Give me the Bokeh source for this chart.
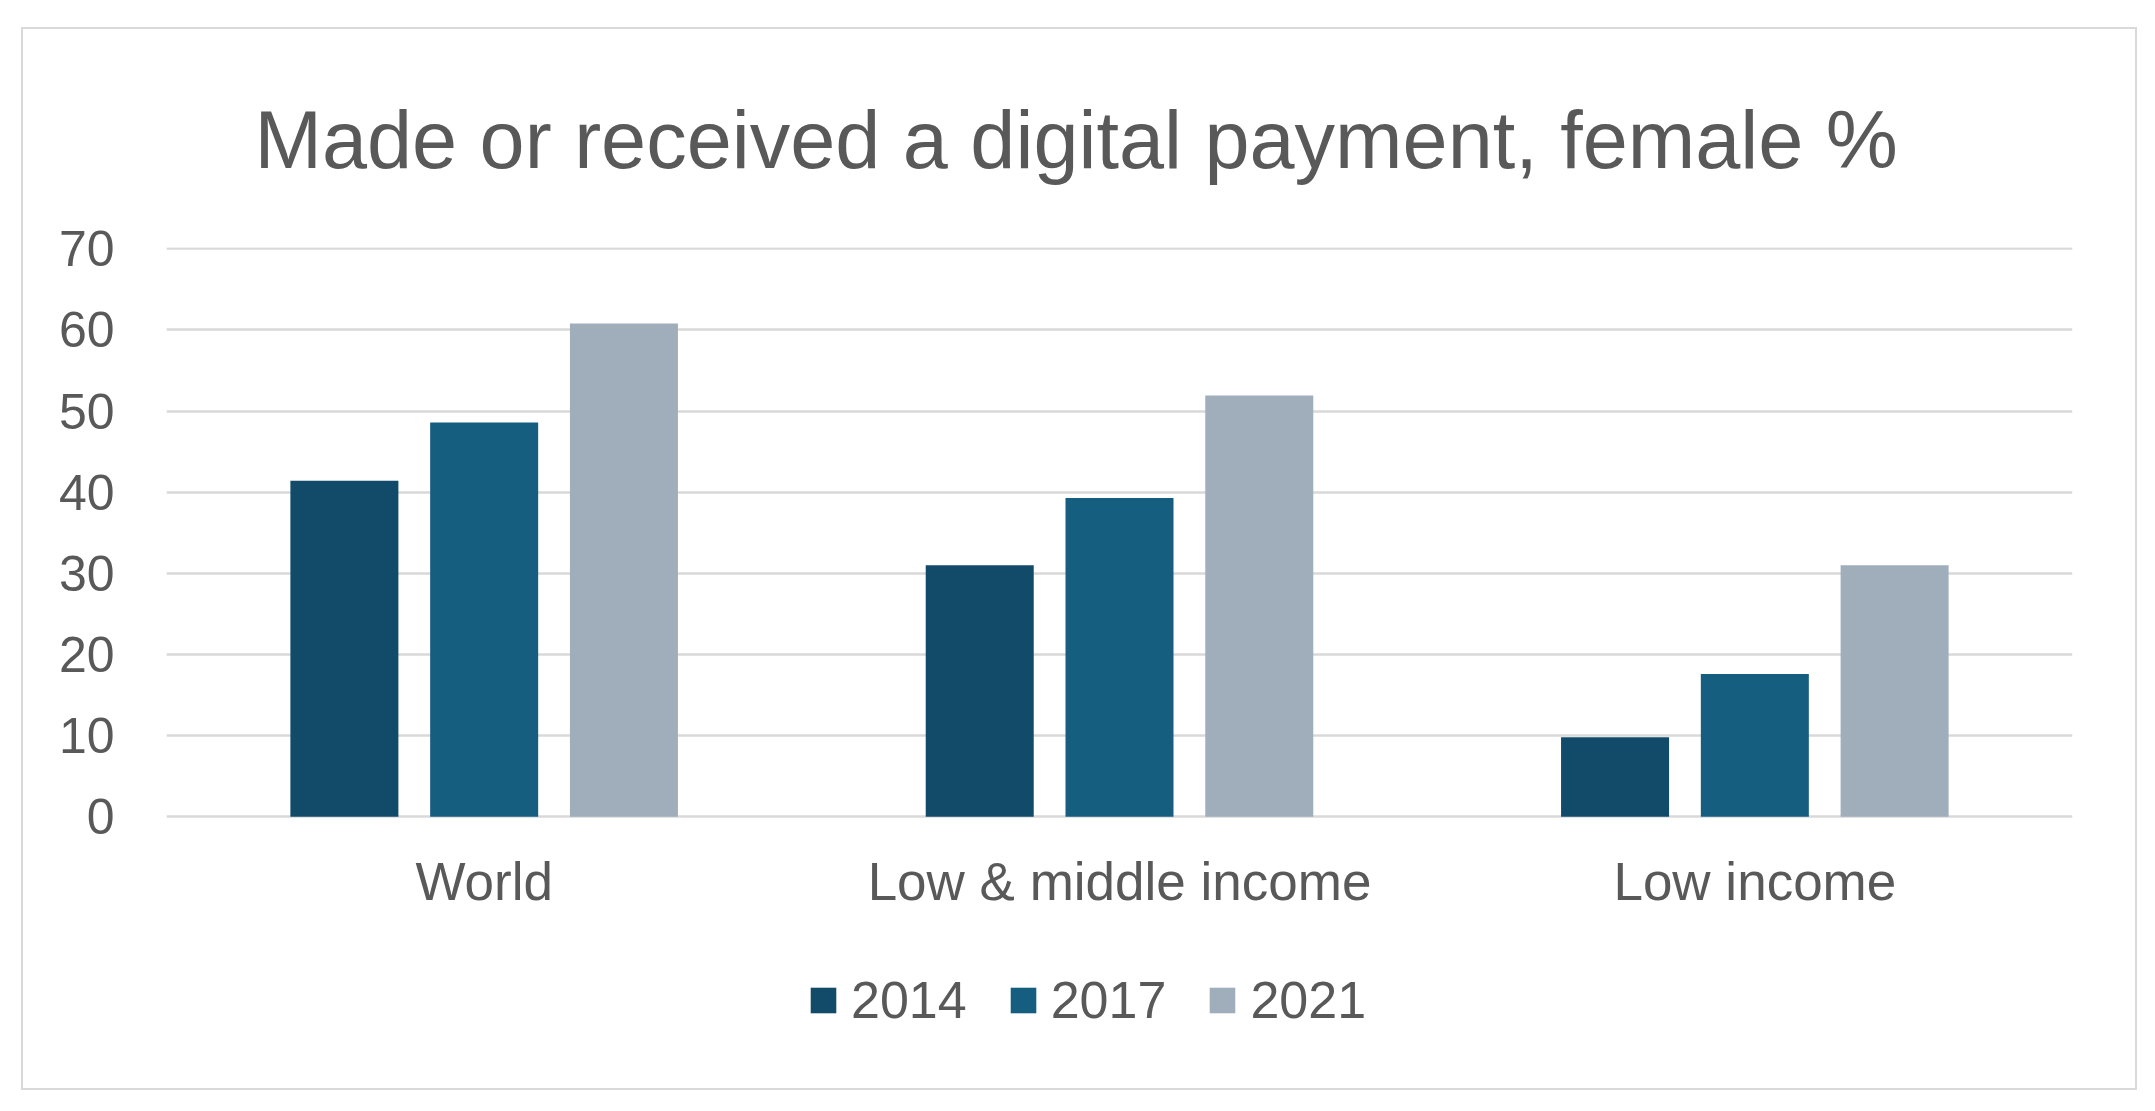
from bokeh.plotting import figure
from bokeh.models import ColumnDataSource, FactorRange, Range1d, Legend, LegendItem, FixedTicker
from bokeh.transform import dodge
from bokeh.embed import file_html
from bokeh.resources import INLINE

categories = ["World", "Low & middle income", "Low income"]
years = ["2014", "2017", "2021"]
v2014 = [41.4, 31.0, 9.8]
v2017 = [48.6, 39.3, 17.6]
v2021 = [60.8, 51.9, 31.0]
colors = ["#124B69", "#165E80", "#A0AEBB"]
y_ticks = [0, 10, 20, 30, 40, 50, 60, 70]

FONT = "Liberation Sans"
TXT = "#595959"

src = ColumnDataSource(dict(cat=categories, y2014=v2014, y2017=v2017, y2021=v2021))

p = figure(x_range=FactorRange(*categories), y_range=Range1d(-31.5, 70.15),
           width=2116, height=1063, output_backend="svg", toolbar_location=None,
           min_border_left=143, min_border_right=67, min_border_top=218, min_border_bottom=20)
p.margin = (27, 0, 0, 21)
p.styles = {"border": "2px solid #D9D9D9", "box-sizing": "border-box"}

p.title.text = "Made or received a digital payment, female %"
p.title.align = "left"
p.title.vertical_align = "top"
p.title.text_font = FONT
p.title.text_font_size = "81px"
p.title.text_font_style = "normal"
p.title.text_color = TXT
p.title.offset = 88
p.title.standoff = 122

offsets = [-0.22, 0.0, 0.22]
renderers = []
for yr, off, col in zip(years, offsets, colors):
    r = p.vbar(x=dodge("cat", off, range=p.x_range), top="y" + yr, width=0.17,
               source=src, fill_color=col, line_color=None)
    renderers.append(r)

p.xgrid.grid_line_color = None
p.ygrid.grid_line_color = "#D9D9D9"
p.ygrid.grid_line_width = 2.5
p.yaxis.ticker = FixedTicker(ticks=y_ticks)
p.outline_line_color = None

for ax in (p.xaxis, p.yaxis):
    ax.axis_line_color = None
    ax.major_tick_line_color = None
    ax.minor_tick_line_color = None
    ax.major_label_text_font = FONT
    ax.major_label_text_color = TXT
p.yaxis.major_label_text_font_size = "50px"
p.yaxis.major_label_standoff = 46
p.xaxis.major_label_text_font_size = "53px"
p.xaxis.major_label_standoff = 29
p.xaxis.fixed_location = 0

legend = Legend(items=[LegendItem(label=yr, renderers=[r]) for yr, r in zip(years, renderers)],
                orientation="horizontal", location=(641, 42))
legend.label_text_font = FONT
legend.label_text_font_size = "52px"
legend.label_text_color = TXT
legend.glyph_width = 32
legend.glyph_height = 32
legend.label_standoff = 12
legend.spacing = 40
legend.border_line_color = None
legend.background_fill_alpha = 0
legend.padding = 0
legend.margin = 0
p.add_layout(legend, "center")

open("out.html", "w").write(file_html(p, INLINE))
